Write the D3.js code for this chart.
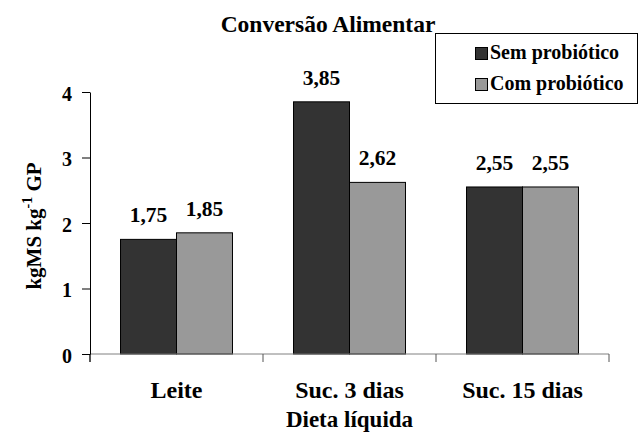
<!DOCTYPE html>
<html>
<head>
<meta charset="utf-8">
<script src="https://cdn.jsdelivr.net/npm/d3@7"></script>
<style>
  html, body { margin: 0; padding: 0; background: #fff; }
  svg { display: block; }
  text { font-family: "Liberation Serif", "Times New Roman", serif; font-weight: bold; fill: #000; }
</style>
</head>
<body>
<svg id="chart" width="639" height="433"></svg>
<script>
// Feed conversion by liquid diet, with and without probiotic
const categories = ["Leite", "Suc. 3 dias", "Suc. 15 dias"];
const seriesNames = ["Sem probiótico", "Com probiótico"];
const semProbiotico = [1.75, 3.85, 2.55];
const comProbiotico = [1.85, 2.62, 2.55];
const valueLabels = [["1,75", "3,85", "2,55"], ["1,85", "2,62", "2,55"]];
const yTicks = [0, 1, 2, 3, 4];
const colors = ["#333333", "#999999"];

const series = [semProbiotico, comProbiotico];
const svg = d3.select("#chart");

const plot = { left: 90, right: 609, top: 92, bottom: 354 };

const y = d3.scaleLinear().domain([0, 4]).range([plot.bottom, plot.top]);
const x0 = d3.scaleBand().domain(categories).range([plot.left, plot.right]).paddingInner(0).paddingOuter(0);
const x1 = d3.scaleBand().domain(d3.range(series.length)).range([0, x0.bandwidth()]).paddingOuter(0.545).paddingInner(0);

// Bars and value labels
categories.forEach((cat, ci) => {
  series.forEach((vals, si) => {
    const bx = x0(cat) + x1(si);
    svg.append("rect")
      .attr("x", bx)
      .attr("y", y(vals[ci]))
      .attr("width", x1.bandwidth())
      .attr("height", y(0) - y(vals[ci]))
      .attr("fill", colors[si])
      .attr("stroke", "#000")
      .attr("stroke-width", 1);
    svg.append("text")
      .attr("x", bx + x1.bandwidth() / 2)
      .attr("y", y(vals[ci]) - 17)
      .attr("text-anchor", "middle")
      .attr("font-size", 21.5)
      .text(valueLabels[si][ci]);
  });
});

// X axis baseline and category separators
svg.append("line")
  .attr("x1", plot.left).attr("x2", plot.right)
  .attr("y1", y(0)).attr("y2", y(0))
  .attr("stroke", "#808080").attr("stroke-width", 1);
const bounds = categories.map(c => x0(c)).concat([x0(categories[categories.length - 1]) + x0.bandwidth()]);
svg.selectAll(".xtick").data(bounds).enter().append("line")
  .attr("x1", d => d).attr("x2", d => d)
  .attr("y1", y(0)).attr("y2", y(0) + 8)
  .attr("stroke", "#555").attr("stroke-width", 1);

// Y axis
const yAxis = d3.axisLeft(y).tickValues(yTicks).tickSize(8).tickSizeOuter(0).tickFormat(d3.format("d"));
const gy = svg.append("g").attr("transform", `translate(${plot.left},0)`).call(yAxis);
gy.select(".domain").attr("stroke", "#000");
gy.selectAll(".tick line").attr("stroke", "#000");
gy.selectAll(".tick text")
  .attr("font-size", 20)
  .attr("font-family", "Liberation Serif, Times New Roman, serif")
  .attr("font-weight", "bold")
  .attr("fill", "#000")
  .attr("x", -18)
  .attr("dy", "0.4em");
svg.append("line")
  .attr("x1", plot.left).attr("x2", plot.left)
  .attr("y1", y(0)).attr("y2", y(0) + 8)
  .attr("stroke", "#000");

// Category labels
svg.selectAll(".xlabel").data(categories).enter().append("text")
  .attr("x", d => x0(d) + x0.bandwidth() / 2)
  .attr("y", 398)
  .attr("text-anchor", "middle")
  .attr("font-size", 24)
  .text(d => d);

// Axis titles
svg.append("text")
  .attr("x", (plot.left + plot.right) / 2)
  .attr("y", 427)
  .attr("text-anchor", "middle")
  .attr("font-size", 23)
  .text("Dieta líquida");

const yTitle = svg.append("text")
  .attr("transform", "translate(41,226) rotate(-90)")
  .attr("text-anchor", "middle")
  .attr("font-size", 21);
yTitle.append("tspan").text("kgMS kg");
yTitle.append("tspan").attr("dy", -9).attr("font-size", 14).text("-1");
yTitle.append("tspan").attr("dy", 9).text(" GP");

// Chart title
svg.append("text")
  .attr("x", 328)
  .attr("y", 32)
  .attr("text-anchor", "middle")
  .attr("font-size", 23.5)
  .text("Conversão Alimentar");

// Legend
const legend = svg.append("g");
legend.append("rect")
  .attr("x", 435.5).attr("y", 33.5)
  .attr("width", 202).attr("height", 70)
  .attr("fill", "#fff").attr("stroke", "#000");
seriesNames.forEach((name, i) => {
  const ly = 47 + i * 31;
  legend.append("rect")
    .attr("x", 475.5).attr("y", ly + 0.5)
    .attr("width", 12).attr("height", 12)
    .attr("fill", colors[i]).attr("stroke", "#000");
  legend.append("text")
    .attr("x", 490)
    .attr("y", ly + 12)
    .attr("font-size", 20)
    .text(name);
});
</script>
</body>
</html>
